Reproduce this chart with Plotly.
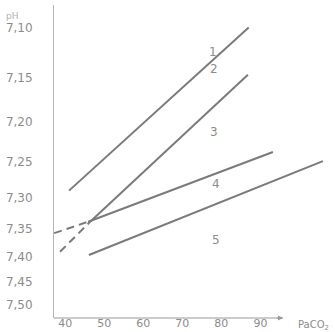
import plotly.graph_objects as go

# ---- data ----
line1_paco2 = [41.0, 87.0]
line1_ph = [7.29, 7.10]
line2_paco2 = [46.4, 86.8]
line2_ph = [7.338, 7.147]
line2_dash_paco2 = [38.7, 46.4]
line2_dash_ph = [7.39, 7.338]
line4_paco2 = [45.9, 93.2]
line4_ph = [7.338, 7.237]
line4_dash_paco2 = [37.2, 45.9]
line4_dash_ph = [7.357, 7.338]
line5_paco2 = [46.1, 106.0]
line5_ph = [7.396, 7.249]

ph_ticks = [7.10, 7.15, 7.20, 7.25, 7.30, 7.35, 7.40, 7.45, 7.50]
ph_tick_labels = ["7,10", "7,15", "7,20", "7,25", "7,30", "7,35", "7,40", "7,45", "7,50"]
paco2_ticks = [40, 50, 60, 70, 80, 90]

line_labels = ["1", "2", "3", "4", "5"]
label_paco2 = [77.9, 78.1, 78.1, 78.6, 78.6]
label_ph = [7.124, 7.141, 7.212, 7.280, 7.369]


def h(ph_list):
    # pH axis drawn on a [H+] (nmol/l) scale
    return [10 ** (9 - p) for p in ph_list]


LINE = "#7a7a7a"
TEXT = "#8c8c8c"

fig = go.Figure()
solid = [(line1_paco2, line1_ph), (line2_paco2, line2_ph),
         (line4_paco2, line4_ph), (line5_paco2, line5_ph)]
for xs, ys in solid:
    fig.add_trace(go.Scatter(x=xs, y=h(ys), mode="lines",
                             line=dict(color=LINE, width=2), showlegend=False,
                             hoverinfo="skip"))
for xs, ys in [(line2_dash_paco2, line2_dash_ph), (line4_dash_paco2, line4_dash_ph)]:
    fig.add_trace(go.Scatter(x=xs, y=h(ys), mode="lines",
                             line=dict(color=LINE, width=2, dash="8px,5px"),
                             showlegend=False, hoverinfo="skip"))

for t, xv, yv in zip(line_labels, label_paco2, h(label_ph)):
    fig.add_annotation(x=xv, y=yv, text=t, showarrow=False,
                       font=dict(size=12, color=TEXT, family="DejaVu Sans"))

x_min, x_axis_end, x_max = 37.15, 95.8, 109.1

# x axis line with arrow
fig.add_shape(type="line", xref="x", yref="paper", x0=x_min, x1=x_axis_end,
              y0=0, y1=0, line=dict(color="#999999", width=1.2))
fig.add_annotation(x=x_axis_end, y=0, xref="x", yref="paper", ax=-8, ay=0,
                   axref="pixel", ayref="pixel", showarrow=True, arrowhead=2,
                   arrowsize=1, arrowwidth=1, arrowcolor="#999999", text=" ",
                   font=dict(size=1))
fig.add_annotation(x=0.985, y=0, xref="paper", yref="paper", xanchor="right",
                   yanchor="middle", yshift=-7,
                   text="PaCO<sub>2</sub>", showarrow=False,
                   font=dict(size=10, color=TEXT, family="DejaVu Sans"))
fig.add_annotation(x=-0.15, y=0.988, xref="paper", yref="paper", xanchor="center",
                   text="pH", showarrow=False,
                   font=dict(size=9, color="#b0b0b0", family="DejaVu Sans"))

fig.update_layout(
    width=335, height=332,
    margin=dict(l=54, r=0, t=5, b=14),
    paper_bgcolor="white", plot_bgcolor="white",
    font=dict(family="DejaVu Sans", color=TEXT),
    xaxis=dict(range=[x_min, x_max], tickvals=paco2_ticks, showgrid=False,
               zeroline=False, showline=False, ticks="", automargin=False,
               tickfont=dict(size=11, color=TEXT), ticklabelstandoff=-3),
    yaxis=dict(range=[29.31, 83.31], tickvals=h(ph_ticks), ticktext=ph_tick_labels,
               showgrid=False, zeroline=False, showline=True, automargin=False,
               linecolor="#b5b5b5", linewidth=1, ticks="",
               tickfont=dict(size=12, color=TEXT), ticklabelstandoff=18),
)

fig.write_html("out.html", config={"displayModeBar": False},
               post_script="document.body.style.margin='0';"
                           "document.body.style.overflow='hidden';")
